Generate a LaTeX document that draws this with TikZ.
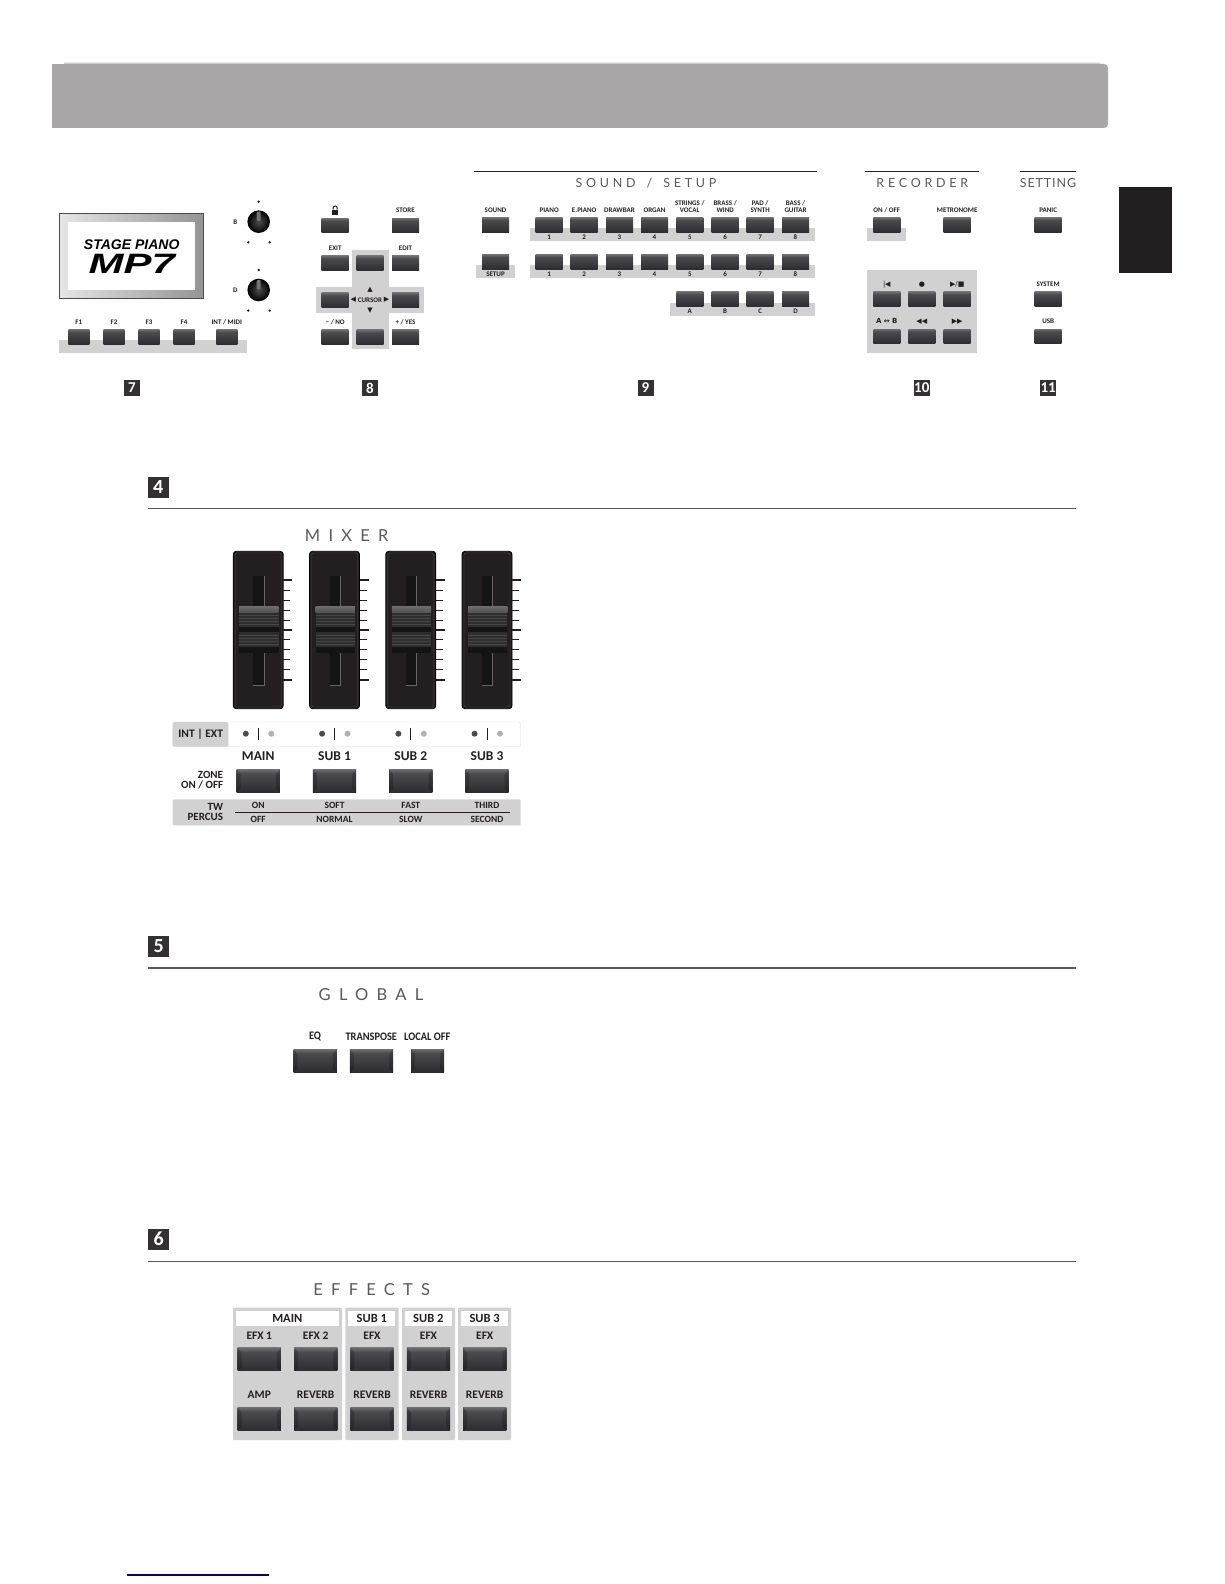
\documentclass[tikz,border=0pt]{standalone}
\usepackage{fontspec}
\setmainfont{Carlito}
\newfontfamily\headfont[LetterSpace=30]{Lato}
\newfontfamily\headwide[LetterSpace=50]{Lato}
\newfontfamily\headtight[LetterSpace=7]{Lato}
\newfontfamily\logofont{Liberation Sans}
\newfontfamily\symfont{DejaVu Sans}
\usetikzlibrary{positioning,calc}
\definecolor{keytop}{HTML}{6E6D72}
\definecolor{keymid}{HTML}{4B4A4F}
\definecolor{keybot}{HTML}{2D2C31}
\definecolor{bandgray}{HTML}{D2D1D1}
\definecolor{bargray}{HTML}{A8A6A7}
\definecolor{inkgray}{HTML}{231F20}
\definecolor{badgegray}{HTML}{333132}
\definecolor{headgray}{HTML}{5A5859}
\pgfdeclareverticalshading{keyshade}{100bp}{color(0bp)=(keybot); color(25bp)=(keybot); color(66bp)=(keymid); color(75bp)=(keytop); color(100bp)=(keytop)}
\tikzset{
  key/.style={shade,shading=keyshade,rectangle,inner sep=0,minimum width=27pt,minimum height=14.6pt},
  fkey/.style={key,minimum width=21pt},
  bigkey/.style={key,minimum width=43.3pt,minimum height=23pt,path picture={
    \fill[black,opacity=.2] (path picture bounding box.north west) -- ++(4pt,-5pt) -- ([xshift=4pt,yshift=3pt]path picture bounding box.south west) -- (path picture bounding box.south west) -- cycle;
    \fill[black,opacity=.2] (path picture bounding box.north east) -- ++(-4pt,-5pt) -- ([xshift=-4pt,yshift=3pt]path picture bounding box.south east) -- (path picture bounding box.south east) -- cycle;}},
  keylabel/.style={inner sep=0,align=center,text depth=0pt,text=inkgray,font=\bfseries\fontsize{7}{6.4}\selectfont},
  biglabel/.style={inner sep=0,align=center,text=inkgray,font=\bfseries\fontsize{11.5}{11}\selectfont},
  zonelabel/.style={inner sep=0,text=inkgray,font=\bfseries\fontsize{13.5}{14}\selectfont},
  smalllabel/.style={inner sep=0,text=inkgray,font=\bfseries\fontsize{9.5}{10}\selectfont},
  sidelabel/.style={inner sep=0,align=right,anchor=east,text=inkgray,font=\bfseries\fontsize{11}{10.4}\selectfont},
  panelhead/.style={inner sep=0,text=headgray,font=\headfont\fontsize{12.5}{13}\selectfont},
  widehead/.style={inner sep=0,text=headgray,font=\headwide\fontsize{16.5}{17}\selectfont},
  symbol/.style={inner sep=0,text=inkgray,font=\symfont\fontsize{7}{7}\selectfont},
  band/.style={fill=bandgray},
  toprule/.style={draw=inkgray,line width=1pt},
  secrule/.style={draw=headgray,line width=1.8pt},
  badge/.style={fill=badgegray,text=white,inner sep=0,minimum size=16pt,font=\bfseries\fontsize{15}{15}\selectfont},
  secbadge/.style={badge,minimum size=21pt,font=\bfseries\fontsize{20}{20}\selectfont},
  knob/.style={circle,inner sep=0,minimum size=22.6pt,inner color=black!70,outer color=black},
  tinydot/.style={fill=inkgray},
  fader/.pic={
    \draw[black,fill=inkgray,rounded corners=3pt,line width=.8pt] (-25,-78.7) rectangle (25,78.7);
    \draw[black!70,rounded corners=2pt,line width=.4pt] (-23,-77) rectangle (23,77);
    \fill[black!92] (-5,-54.3) rectangle (5.7,55);
    \draw[black!60,line width=.5pt] (5.7,-54.3) -- (5.7,55) -- (-5,55);
    \fill[black!92] (-19,-23.3) rectangle (20.3,23.3);
    \shade[top color=black!58,bottom color=black!68] (-19,-23.3) rectangle (20.3,-17.3);
    \fill[black!82] (-19,-17.3) rectangle (20.3,-3);
    \fill[black!82] (-19,2.3) rectangle (20.3,16.7);
    \foreach \r in {-14.5,-11.5,-8.5,-5.5,5,8,11,14}
      \draw[black!72,line width=.4pt] (-19,\r) -- (20.3,\r);
    \foreach \t in {-50,0,50}
      \draw[inkgray,line width=1.2pt] (25,\t) -- (34,\t);
    \foreach \t in {-39.7,-29.7,-19.7,-9.7,9.3,19.3,29.3,39.3}
      \draw[inkgray,line width=.7pt] (25,\t) -- (32,\t);
  }
}

\begin{document}
\begin{tikzpicture}[x=1pt,y=-1pt]
  \useasboundingbox (0,0) rectangle (1224,1584);

  % top of the page
  \shade[top color=white,bottom color=bargray] (64,61.5) rectangle (1100,64.5);
  \fill[bargray,rounded corners=4pt] (60,64) rectangle (1108,128);
  \fill[bargray] (52,64) rectangle (70,128);
  \fill[inkgray] (1119,187) rectangle (1172,273);

  % bands behind the keys
  \fill[band] (59.3,340) rectangle (246.7,352.7);
  \fill[band] (351.7,250.3) rectangle (388.7,349.3);
  \fill[band] (316.3,287.3) rectangle (424.3,312.7);
  \fill[band] (475.7,265.3) rectangle (514.7,278.3);
  \fill[band] (530,228.3) rectangle (815,241);
  \fill[band] (530,265.3) rectangle (815,278.3);
  \fill[band] (670.3,302.7) rectangle (815,315.7);
  \fill[band] (867,228.3) rectangle (906.3,241);
  \fill[band] (867,270) rectangle (976.7,352.7);

  % screen
  \node[rectangle,inner sep=0,minimum width=144.4pt,minimum height=85.4pt,draw=black!70,line width=1pt,left color=black!10,right color=black!42] (screen) at (131.5,256) {};
  \node[fill=white,inner sep=0,minimum width=127.4pt,minimum height=68pt] (display) at (screen) {};
  \node[inner sep=0,text=black,font=\logofont\bfseries\itshape\fontsize{14}{14}\selectfont] (stage) at (131.7,245) {STAGE PIANO};
  \node[inner sep=0,text=black,xscale=1.5,font=\logofont\bfseries\itshape\fontsize{28}{28}\selectfont] (mpseven) at (131.7,263.5) {MP7};

  % knobs
  \node[knob] (knobb) at (258.7,221.7) {};
  \node[knob] (knobd) at (258.7,290) {};
  \node[keylabel] (labelb) at (235.3,222) {B};
  \node[keylabel] (labeld) at (235.3,290.3) {D};
  \fill[black!55,rounded corners=1pt] (256.7,211.5) rectangle (260.7,221);
  \fill[black!55,rounded corners=1pt] (256.7,279.8) rectangle (260.7,289.3);
  \foreach \y in {0,68.3} {
    \fill[tinydot] (258.7,201.7+\y) circle [radius=1.3pt];
    \fill[tinydot] (248.3,242.3+\y) circle [radius=1.3pt];
    \fill[tinydot] (269.7,242.3+\y) circle [radius=1.3pt];
  }

  % F keys
  \foreach \x/\n/\t in {78.8/a/F1,114/b/F2,149/c/F3,184/d/F4,226.8/e/{INT / MIDI}} {
    \node[fkey] (f\n) at (\x,336.7) {};
    \node[keylabel,above=5pt of f\n] (lf\n) {\t};
  }

  % edit keys
  \node[key] (lock) at (335.2,225.5) {};
  \node[key] (store) at (405.5,225.5) {};
  \node[key] (exit) at (335.2,263) {};
  \node[key] (curup) at (370.2,263) {};
  \node[key] (edit) at (405.5,263) {};
  \node[key] (curleft) at (335.2,300) {};
  \node[key] (curright) at (405.5,300) {};
  \node[key] (no) at (335.2,337) {};
  \node[key] (curdown) at (370.2,337) {};
  \node[key] (yes) at (405.5,337) {};
  \node[keylabel,above=5pt of store] (lstore) {STORE};
  \node[keylabel,above=5pt of exit] (lexit) {EXIT};
  \node[keylabel,above=5pt of edit] (ledit) {EDIT};
  \node[keylabel,above=5pt of no] (lno) {− / NO};
  \node[keylabel,above=5pt of yes] (lyes) {+ / YES};
  \fill[inkgray] (332,209.5) rectangle (338.4,214.5);
  \draw[inkgray,line width=1pt] (333.2,209.5) -- (333.2,208) arc [start angle=180,end angle=0,x radius=2pt,y radius=2pt] -- (337.2,209.5);
  \node[keylabel] (cursor) at (370,300) {CURSOR};
  \node[symbol] (curn) at (370,289.3) {▲};
  \node[symbol] (curs) at (370,311) {▼};
  \node[symbol,left=1.5pt of cursor] (curw) {◀};
  \node[symbol,right=1.5pt of cursor] (cure) {▶};

  % sound / setup
  \draw[toprule] (474,171.3) -- (816.7,171.3);
  \node[panelhead] (soundhead) at (646,183) {SOUND\hspace{4pt} / \hspace{4pt}SETUP};
  \node[key] (sound) at (495.5,224.7) {};
  \node[key] (setup) at (495.5,261.7) {};
  \node[keylabel,above=5pt of sound] (lsound) {SOUND};
  \node[keylabel] (lsetup) at (495.5,274.3) {SETUP};
  \foreach \i/\x/\t in {1/549.2/PIANO,2/584.2/E.PIANO,3/619.5/DRAWBAR,4/654.5/ORGAN,5/689.8/{STRINGS /\\VOCAL},6/725.2/{BRASS /\\WIND},7/760.2/{PAD /\\SYNTH},8/795.5/{BASS /\\GUITAR}} {
    \node[key] (tone\i) at (\x,224.7) {};
    \node[key] (bank\i) at (\x,261.7) {};
    \node[keylabel,above=5pt of tone\i] (ltone\i) {\t};
    \node[keylabel] (ntone\i) at (\x,237.3) {\i};
    \node[keylabel] (nbank\i) at (\x,274.3) {\i};
  }
  \foreach \x/\t in {689.8/A,725.2/B,760.2/C,795.5/D} {
    \node[key] (var\t) at (\x,299) {};
    \node[keylabel] (lvar\t) at (\x,311.3) {\t};
  }

  % recorder
  \draw[toprule] (865,171.3) -- (978.7,171.3);
  \node[panelhead] (rechead) at (922.3,183.3) {RECORDER};
  \node[key] (onoff) at (886.8,224.7) {};
  \node[key] (metro) at (957.2,224.7) {};
  \node[keylabel,above=5pt of onoff] (lonoff) {ON / OFF};
  \node[keylabel,above=5pt of metro] (lmetro) {METRONOME};
  \foreach \n/\x/\s/\t in {a/886.8/{|\kern-.6pt◀}/{\bfseries A ↔ B},b/921.8/●/◀◀,c/957.2/{▶/■}/▶▶} {
    \node[key] (rec\n) at (\x,299) {};
    \node[key] (pos\n) at (\x,336.3) {};
    \node[symbol] (lrec\n) at (\x,284.3) {\s};
    \node[symbol] (lpos\n) at (\x,321.3) {\t};
  }

  % setting
  \draw[toprule] (1020.3,171.3) -- (1075.7,171.3);
  \node[panelhead,font=\headtight\fontsize{12.5}{13}\selectfont] (sethead) at (1048,183.3) {SETTING};
  \foreach \n/\y/\t in {panic/224.7/PANIC,system/299/SYSTEM,usb/336.3/USB} {
    \node[key] (\n) at (1048.2,\y) {};
    \node[keylabel,above=5pt of \n] (l\n) {\t};
  }

  % numbers of the top row
  \node[badge] (nseven) at (131.8,388) {7};
  \node[badge] (neight) at (370,388) {8};
  \node[badge] (nnine) at (645.5,388) {9};
  \node[badge] (nten) at (921.8,388) {10};
  \node[badge] (neleven) at (1048.2,388) {11};

  % mixer
  \node[secbadge] (nfour) at (158.2,487.4) {4};
  \draw[secrule] (147.5,508.4) -- (1076,508.4);
  \node[widehead] (mixerhead) at (346.7,536) {MIXER};
  \draw[draw=black!14,fill=white,rounded corners=1.5pt] (172.7,722) rectangle (520.7,746.7);
  \fill[band,rounded corners=1.5pt] (172.7,722) rectangle (228.3,746.7);
  \node[biglabel] (intext) at (200.7,734.3) {INT | EXT};
  \fill[band,rounded corners=1pt] (172.7,799.3) rectangle (520.7,825.3);
  \node[sidelabel] (zone) at (223.3,780.2) {ZONE\\ON / OFF};
  \node[sidelabel] (twpercus) at (223.3,812) {TW\\PERCUS};
  \draw[inkgray,line width=.7pt] (235,812.3) -- (510,812.3);
  \foreach \i/\x/\t/\u/\v in {1/258.2/MAIN/ON/OFF,2/334.5/SUB 1/SOFT/NORMAL,3/410.8/SUB 2/FAST/SLOW,4/487/SUB 3/THIRD/SECOND} {
    \pic (fader\i) at (\x,630) {fader};
    \fill[black!70] (\x-12.4,733.7) circle [radius=3pt];
    \draw[inkgray,line width=.8pt] (\x,727.7) -- (\x,740);
    \fill[black!30] (\x+13,733.7) circle [radius=3pt];
    \node[zonelabel] (lzone\i) at (\x,756.3) {\t};
    \node[bigkey] (zone\i) at (\x,780.8) {};
    \node[smalllabel] (lup\i) at (\x,805.3) {\u};
    \node[smalllabel] (ldown\i) at (\x,819) {\v};
  }

  % global
  \node[secbadge] (nfive) at (158.7,946.4) {5};
  \draw[secrule] (147.5,968) -- (1076,968);
  \node[widehead] (globalhead) at (371,994.3) {GLOBAL};
  \node[bigkey] (eq) at (315.2,1060.5) {};
  \node[bigkey] (transpose) at (371.5,1060.5) {};
  \node[bigkey,minimum width=33pt] (localoff) at (427.5,1060.5) {};
  \node[biglabel,xscale=.9] (leq) at (315,1036.7) {EQ};
  \node[biglabel,xscale=.9] (ltranspose) at (371.3,1036.7) {TRANSPOSE};
  \node[biglabel,xscale=.9] (llocaloff) at (427.3,1036.7) {LOCAL OFF};

  % effects
  \node[secbadge] (nsix) at (158.7,1239) {6};
  \draw[secrule] (147.5,1261.5) -- (1076,1261.5);
  \node[widehead] (effectshead) at (371.7,1290) {EFFECTS};
  \foreach \a/\b/\c/\d/\n/\t in {233/342/235.7/339/a/MAIN,345.3/398.7/348.3/395.3/b/SUB 1,402/455/405/451.7/c/SUB 2,458/511/461.3/508/d/SUB 3} {
    \fill[band,rounded corners=1pt] (\a,1307.7) rectangle (\b,1440);
    \fill[white] (\c,1311) rectangle (\d,1326);
    \node[zonelabel,font=\bfseries\fontsize{12.5}{13}\selectfont] (fxhead\n) at ({(\c+\d)/2},1318.3) {\t};
  }
  \foreach \i/\x/\t/\u in {1/259.3/EFX 1/AMP,2/315.7/EFX 2/REVERB,3/372/EFX/REVERB,4/428.5/EFX/REVERB,5/484.7/EFX/REVERB} {
    \node[bigkey] (fxa\i) at (\x,1359.3) {};
    \node[bigkey] (fxb\i) at (\x,1418.8) {};
    \node[biglabel] (lfxa\i) at (\x,1335.3) {\t};
    \node[biglabel] (lfxb\i) at (\x,1395) {\u};
  }

  \draw[blue!50!black,line width=1.1pt] (127,1575) -- (269,1575);
\end{tikzpicture}
\end{document}
